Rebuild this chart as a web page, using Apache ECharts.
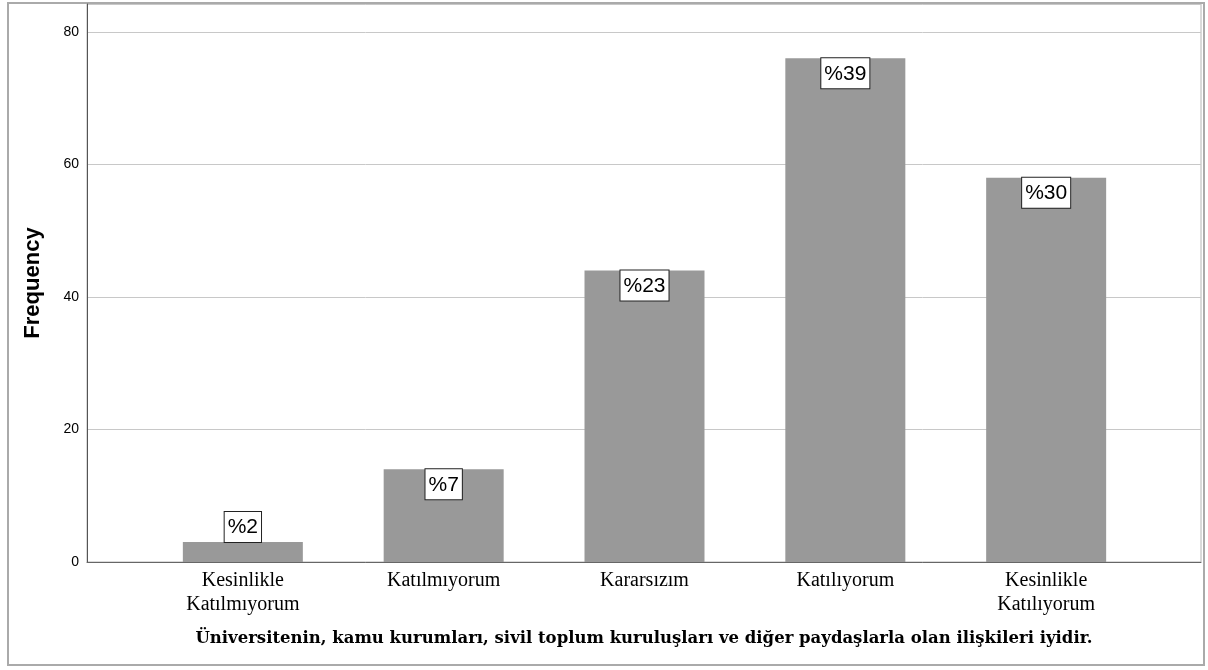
<!DOCTYPE html>
<html>
<head>
<meta charset="utf-8">
<script src="https://cdn.jsdelivr.net/npm/echarts@6/dist/echarts.min.js"></script>
<style>
html, body { margin: 0; padding: 0; background: #fff; }
#chart { width: 1208px; height: 670px; }
</style>
</head>
<body>
<div id="chart"></div>
<script>
var categories = ['Kesinlikle\nKatılmıyorum', 'Katılmıyorum', 'Kararsızım', 'Katılıyorum', 'Kesinlikle\nKatılıyorum'];
var frequencies = [3, 14, 44, 76, 58];
var percents = [2, 7, 23, 39, 30];
var yTicks = [0, 20, 40, 60, 80];

var setBar = function() {
	var positions = [0, 1, 2, 3, 4];
	var barData = frequencies.map(function(v, i) {
		var short = v < 5;
		return {
			value: [positions[i], v],
			label: {
				position: short ? 'top' : 'insideTop',
				distance: 0
			}
		};
	});

	var option = {
		animation: false,
		backgroundColor: '#fff',
		grid: {
			left: 87,
			right: 7,
			top: 4,
			bottom: 108,
			show: true,
			borderColor: '#b4b4b4',
			borderWidth: 1
		},
		xAxis: {
			type: 'value',
			min: -0.776,
			max: 4.771,
			name: 'Üniversitenin, kamu kurumları, sivil toplum kuruluşları ve diğer paydaşlarla olan ilişkileri iyidir.',
			nameLocation: 'middle',
			nameGap: 68,
			nameTextStyle: {
				fontFamily: 'DejaVu Serif',
				fontWeight: 'bold',
				fontSize: 16.5,
				color: '#000'
			},
			axisLine: { onZero: false, lineStyle: { color: '#666', width: 1 } },
			axisTick: { show: false },
			splitLine: { show: false },
			axisLabel: {
				customValues: positions,
				formatter: function(v) { return categories[Math.round(v)]; },
				fontFamily: 'Liberation Serif',
				fontSize: 20,
				lineHeight: 24,
				color: '#000',
				margin: 7
			}
		},
		yAxis: {
			type: 'value',
			min: 0,
			max: 84.2,
			interval: 20,
			name: 'Frequency',
			nameLocation: 'middle',
			nameGap: 43,
			nameTextStyle: {
				fontFamily: 'Liberation Sans',
				fontWeight: 'bold',
				fontSize: 22,
				color: '#000'
			},
			axisLine: { show: true, onZero: false, lineStyle: { color: '#555', width: 1 } },
			axisTick: { show: false },
			splitLine: { lineStyle: { color: '#c8c8c8', width: 1 } },
			axisLabel: {
				customValues: yTicks,
				fontFamily: 'Liberation Sans',
				fontSize: 14,
				color: '#000',
				margin: 8
			}
		},
		graphic: [{
			type: 'rect',
			shape: { x: 8, y: 3, width: 1196, height: 662 },
			style: { fill: null, stroke: '#aaa', lineWidth: 2 },
			silent: true
		}],
		series: [{
			type: 'bar',
			barWidth: 120,
			data: barData,
			itemStyle: { color: '#999999' },
			label: {
				show: true,
				formatter: function(p) { return '%' + percents[p.dataIndex]; },
				fontFamily: 'Liberation Sans',
				fontSize: 21,
				color: '#000',
				backgroundColor: '#fff',
				borderColor: '#222',
				borderWidth: 1,
				padding: [5, 3, 4, 3]
			}
		}]
	};
	var myChart = echarts.init(document.getElementById('chart'));
	myChart.setOption(option);
};
setBar();
</script>
</body>
</html>
